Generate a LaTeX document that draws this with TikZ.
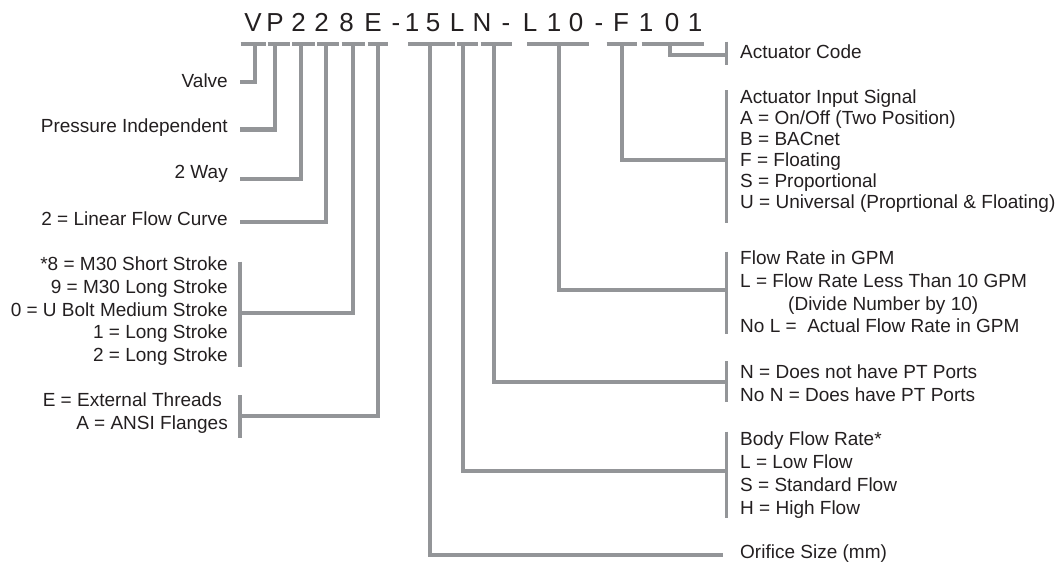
\documentclass[tikz,border=0pt]{standalone}
\usepackage{fontspec}
\setmainfont{Liberation Sans}
\definecolor{lgray}{RGB}{147,149,152}
\definecolor{txt}{RGB}{35,31,32}
\begin{document}
\begin{tikzpicture}[x=1pt,y=-1pt,
  bar/.style={draw=lgray,line width=4.5pt},
  conn/.style={draw=lgray,line width=4.2pt,line join=miter},
  brk/.style={draw=lgray,line width=3.3pt},
  code/.style={font=\fontsize{26}{26}\selectfont,text=txt,inner sep=0pt,anchor=base},
  lab/.style={font=\fontsize{19}{22}\selectfont,text=txt,inner sep=0pt},
  labL/.style={lab,anchor=base east},
  labR/.style={lab,anchor=base west}]
\useasboundingbox (0,0) rectangle (1061,562);

% code characters
\foreach \c/\x [count=\i] in {V/253,P/275,2/298.5,2/321.5,8/346.5,E/373,-/396,1/412,5/433,L/457,N/482,-/506,L/530,1/554,0/576,-/599,F/621,1/646,0/672,1/695}
  \node[code] (c\i) at (\x,31.5) {\c};

% bars under the code
\foreach \n/\a/\b/\s in {V/240.5/265.5/255,P/267.5/290/275,W/292/314.5/301,C/317/338.5/326,S/341.5/364.5/353,T/367.5/388/378,O/408/455/429.7,B/457/478/463,N/480.5/511.5/494,F/527/589/558.7,A/606.5/637/622.3,K/641.5/703.5/669.7}{
  \coordinate (\n-l) at (\a,44);
  \coordinate (\n-r) at (\b,44);
  \coordinate (\n-s) at (\s,44);
  \draw[bar] (\n-l) -- (\n-r);
}

% left labels
\node[labL] (valve) at (228,87.3) {Valve};
\node[labL] (press) at (228,132.7) {Pressure Independent};
\node[labL] (way) at (228,178) {2 Way};
\node[labL] (lin) at (228,225) {2 = Linear Flow Curve};
\foreach \t [count=\i from 0] in {*8 = M30 Short Stroke,9 = M30 Long Stroke,0 = U Bolt Medium Stroke,1 = Long Stroke,2 = Long Stroke}
  \node[labL] (st\i) at (228,270.5+22.75*\i) {\t};
\node[labL] (thr1) at (222,406.7) {E = External Threads};
\node[labL] (thr2) at (228,429) {A = ANSI Flanges};

% right labels
\node[labR] (act) at (740,58.3) {Actuator Code};
\foreach \t [count=\i from 0] in {Actuator Input Signal,A = On/Off (Two Position),B = BACnet,F = Floating,S = Proportional,U = Universal (Proprtional \& Floating)}
  \node[labR] (ai\i) at (740,103.3+21*\i) {\t};
\node[labR] (fr0) at (740,264) {Flow Rate in GPM};
\node[labR] (fr1) at (740,287.3) {L = Flow Rate Less Than 10 GPM};
\node[labR] (fr2) at (788,310) {(Divide Number by 10)};
\node[labR] (fr3) at (740,332.7) {No L =\ \ Actual Flow Rate in GPM};
\node[labR] (pt0) at (740,378.3) {N = Does not have PT Ports};
\node[labR] (pt1) at (740,401) {No N = Does have PT Ports};
\foreach \t [count=\i from 0] in {Body Flow Rate*,L = Low Flow,S = Standard Flow,H = High Flow}
  \node[labR] (bf\i) at (740,445+23*\i) {\t};
\node[labR] (ori) at (740,558.3) {Orifice Size (mm)};

% connector end points
\coordinate (eV) at (240,82);
\coordinate (eP) at (240,129.5);
\coordinate (eW) at (240,179.3);
\coordinate (eC) at (240,221.7);
\coordinate (eS) at (240,313.3);
\coordinate (eT) at (240,416);
\coordinate (eO) at (723,555.3);
\coordinate (eB) at (726.5,471);
\coordinate (eN) at (726.5,381.7);
\coordinate (eF) at (726.5,289.7);
\coordinate (eA) at (726.5,160);
\coordinate (eK) at (726.5,55);

% connectors
\foreach \n in {V,P,W,C,S,T,O,B,N,F,A,K}
  \draw[conn] (\n-s) |- (e\n);

% brackets
\coordinate (bS1) at (240,261.7); \coordinate (bS2) at (240,366.7);
\coordinate (bT1) at (240,395); \coordinate (bT2) at (240,438.3);
\coordinate (bK1) at (726.5,41.7); \coordinate (bK2) at (726.5,65);
\coordinate (bA1) at (726.5,90); \coordinate (bA2) at (726.5,223.3);
\coordinate (bF1) at (726.5,251.7); \coordinate (bF2) at (726.5,334);
\coordinate (bN1) at (726.5,361); \coordinate (bN2) at (726.5,402);
\coordinate (bB1) at (726.5,431.7); \coordinate (bB2) at (726.5,518.3);
\foreach \n in {S,T,K,A,F,N,B}
  \draw[brk] (b\n1) -- (b\n2);
\end{tikzpicture}
\end{document}
